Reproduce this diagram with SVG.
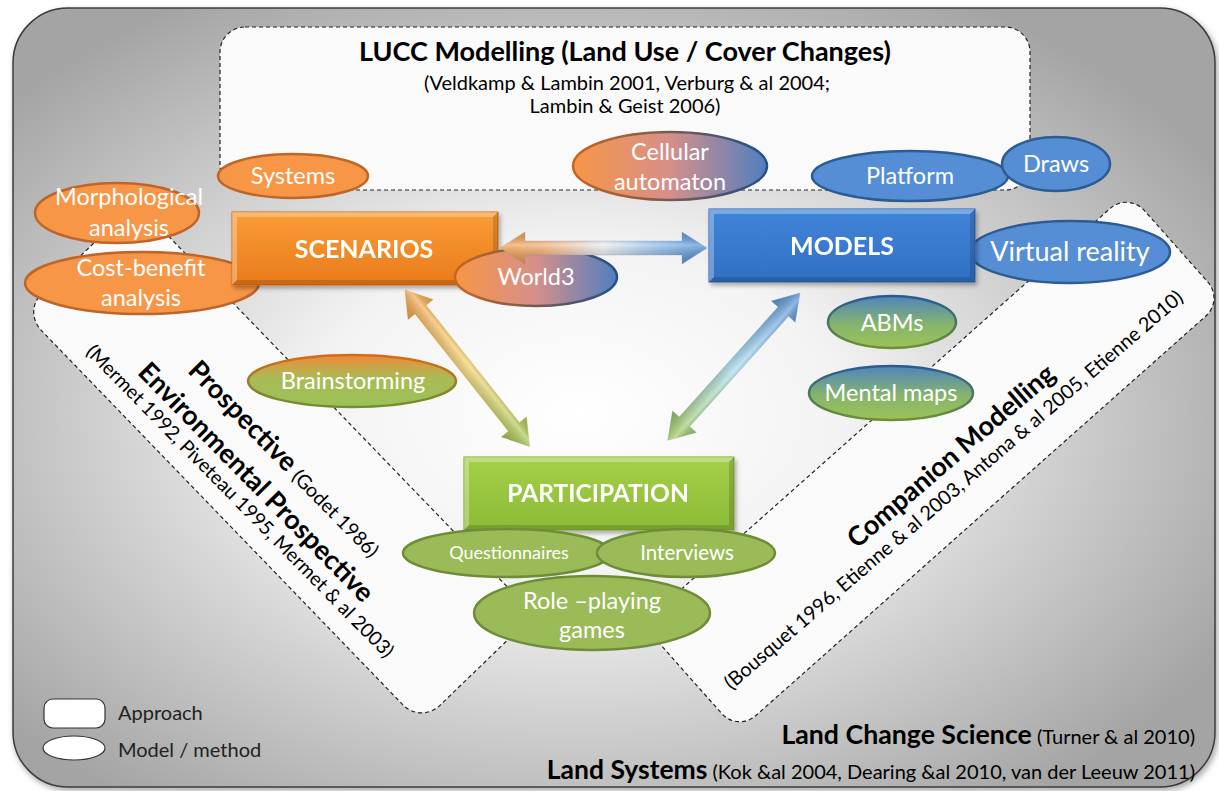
<svg xmlns="http://www.w3.org/2000/svg" width="1219" height="791" viewBox="0 0 1219 791">
<defs>
  <radialGradient id="bg" cx="0.47" cy="0.52" r="0.62">
    <stop offset="0" stop-color="#ffffff"/>
    <stop offset="0.35" stop-color="#f3f3f3"/>
    <stop offset="1" stop-color="#a4a4a4"/>
  </radialGradient>
  <linearGradient id="gScen" x1="0" y1="0" x2="0" y2="1">
    <stop offset="0" stop-color="#fa9d36"/>
    <stop offset="1" stop-color="#e97b1c"/>
  </linearGradient>
  <linearGradient id="gMod" x1="0" y1="0" x2="0" y2="1">
    <stop offset="0" stop-color="#4285d8"/>
    <stop offset="1" stop-color="#316fc2"/>
  </linearGradient>
  <linearGradient id="gPart" x1="0" y1="0" x2="0" y2="1">
    <stop offset="0" stop-color="#a6d048"/>
    <stop offset="1" stop-color="#8bbb37"/>
  </linearGradient>
  <linearGradient id="gOB" x1="0" y1="0" x2="1" y2="0">
    <stop offset="0" stop-color="#f79646"/>
    <stop offset="0.5" stop-color="#d68f8a"/>
    <stop offset="1" stop-color="#4f7fc0"/>
  </linearGradient>
  <linearGradient id="sOB" x1="0" y1="0" x2="1" y2="0">
    <stop offset="0" stop-color="#c8661f"/>
    <stop offset="1" stop-color="#254f85"/>
  </linearGradient>
  <linearGradient id="gBG" x1="0" y1="0" x2="0" y2="1">
    <stop offset="0" stop-color="#4f84bf"/>
    <stop offset="0.55" stop-color="#86b46c"/>
    <stop offset="1" stop-color="#9cc458"/>
  </linearGradient>
  <linearGradient id="sBG" x1="0" y1="0" x2="0" y2="1">
    <stop offset="0" stop-color="#2b5a90"/>
    <stop offset="1" stop-color="#6c9034"/>
  </linearGradient>
  <linearGradient id="gOG" x1="0" y1="0" x2="0" y2="1">
    <stop offset="0" stop-color="#ef8a3a"/>
    <stop offset="0.45" stop-color="#a9bb55"/>
    <stop offset="1" stop-color="#9cc158"/>
  </linearGradient>
  <linearGradient id="sOG" x1="0" y1="0" x2="0" y2="1">
    <stop offset="0" stop-color="#d66a16"/>
    <stop offset="1" stop-color="#6c9034"/>
  </linearGradient>
  <linearGradient id="aH" x1="0" y1="0" x2="1" y2="0">
    <stop offset="0" stop-color="#f39a45"/>
    <stop offset="0.2" stop-color="#f5a866"/>
    <stop offset="0.5" stop-color="#e9ecf2"/>
    <stop offset="0.75" stop-color="#8dbbea"/>
    <stop offset="1" stop-color="#4588d8"/>
  </linearGradient>
  <linearGradient id="aL" x1="0" y1="0" x2="1" y2="0">
    <stop offset="0" stop-color="#f3a045"/>
    <stop offset="0.5" stop-color="#f4d06a"/>
    <stop offset="1" stop-color="#9cc64c"/>
  </linearGradient>
  <linearGradient id="aR" x1="0" y1="0" x2="1" y2="0">
    <stop offset="0" stop-color="#4a89d3"/>
    <stop offset="0.5" stop-color="#a9dcef"/>
    <stop offset="1" stop-color="#9cc64c"/>
  </linearGradient>
  <linearGradient id="aShade" x1="0" y1="0" x2="0" y2="1">
    <stop offset="0" stop-color="#000" stop-opacity="0.12"/>
    <stop offset="0.4" stop-color="#fff" stop-opacity="0.35"/>
    <stop offset="1" stop-color="#000" stop-opacity="0.18"/>
  </linearGradient>
  <filter id="sh" x="-10%" y="-20%" width="130%" height="160%">
    <feDropShadow dx="2" dy="3" stdDeviation="2" flood-color="#000" flood-opacity="0.3"/>
  </filter>
  <filter id="osh" x="-5%" y="-5%" width="110%" height="110%">
    <feDropShadow dx="2" dy="3" stdDeviation="3" flood-color="#000" flood-opacity="0.35"/>
  </filter>
</defs>
<style>
  text { font-family: Lato, "Liberation Sans", sans-serif; }
  .appr { fill: #fafafa; stroke: #222; stroke-width: 1.2; stroke-dasharray: 4 3; }
  .ttl { font-size: 27px; font-weight: bold; fill: #000; text-anchor: middle; }
  .cit { font-size: 20px; fill: #000; text-anchor: middle; }
  .lbl { font-size: 23.5px; fill: #fff; text-anchor: middle; }
  .big { font-size: 25px; font-weight: bold; fill: #fff; text-anchor: middle; }
  .rb { font-size: 27px; font-weight: bold; fill: #000; }
  .rc { font-size: 19.5px; font-weight: normal; fill: #000; }
  .or { fill: #f79646; stroke: #be6529; stroke-width: 2.5; }
  .bl { fill: #558ed5; stroke: #2d5c93; stroke-width: 2.5; }
  .gr { fill: #9bbb59; stroke: #6f8c36; stroke-width: 2.5; }
  .hi { fill: #fff; opacity: 0.3; }
  .lo { fill: #000; opacity: 0.15; }
  .leg { font-size: 20px; fill: #222; }
</style>

<rect id="frame" x="13" y="8" width="1202" height="779" rx="55" fill="url(#bg)" stroke="#3c3c3c" stroke-width="1.5" filter="url(#osh)"/>

<g id="approach-prospective">
  <rect class="appr" x="-286.5" y="-78.5" width="573" height="157" rx="26" transform="translate(278.5 463) rotate(46)"/>
  <g transform="translate(278.6 465.3) rotate(45.5)">
    <text class="rb" text-anchor="middle" x="0" y="0">Prospective <tspan class="rc">(Godet 1986)</tspan></text>
  </g>
  <g transform="translate(249.6 488.7) rotate(45.5)">
    <text class="rb" text-anchor="middle" x="0" y="0">Environmental Prospective</text>
  </g>
  <g transform="translate(235.3 505.9) rotate(45.5)">
    <text class="rc" text-anchor="middle" x="0" y="0">(Mermet 1992, Piveteau 1995, Mermet &amp; al 2003)</text>
  </g>
</g>

<g id="approach-companion">
  <rect class="appr" x="-325" y="-72" width="650" height="144" rx="24" transform="translate(933 462) rotate(-41.6)"/>
  <g transform="translate(957 463) rotate(-40.8)">
    <text class="rb" text-anchor="middle" x="0" y="0">Companion Modelling</text>
  </g>
  <g transform="translate(958 495) rotate(-40.8)">
    <text class="rc" text-anchor="middle" x="0" y="0" style="font-size:19.8px">(Bousquet 1996, Etienne &amp; al 2003, Antona &amp; al 2005, Etienne 2010)</text>
  </g>
</g>

<g id="approach-lucc">
  <rect class="appr" x="220" y="27" width="810" height="163" rx="25"/>
  <text class="ttl" x="625" y="61">LUCC Modelling (Land Use / Cover Changes)</text>
  <text class="cit" x="627" y="90">(Veldkamp &amp; Lambin 2001, Verburg &amp; al 2004;</text>
  <text class="cit" x="625" y="113">Lambin &amp; Geist 2006)</text>
</g>

<g id="approach-landchange">
  <text x="1195" y="744" text-anchor="end"><tspan font-size="26.7" font-weight="bold">Land Change Science</tspan><tspan font-size="20"> (Turner &amp; al 2010)</tspan></text>
</g>
<g id="approach-landsystems">
  <text x="1195" y="779" text-anchor="end"><tspan font-size="26.5" font-weight="bold">Land Systems</tspan><tspan font-size="20"> (Kok &amp;al 2004, Dearing &amp;al 2010, van der Leeuw 2011)</tspan></text>
</g>

<g id="legend">
  <rect x="44" y="699" width="61" height="29" rx="9" fill="#fff" stroke="#333" stroke-width="1.2"/>
  <text class="leg" x="118" y="720">Approach</text>
  <ellipse cx="74" cy="748" rx="31" ry="12" fill="#fff" stroke="#333" stroke-width="1.2"/>
  <text class="leg" x="118" y="757">Model / method</text>
</g>

<g id="node-costbenefit">
  <ellipse class="or" cx="142" cy="283" rx="117" ry="31"/>
  <text class="lbl" x="141" y="276">Cost-benefit</text>
  <text class="lbl" x="141" y="306">analysis</text>
</g>
<g id="node-morphological">
  <ellipse class="or" cx="117" cy="213" rx="82" ry="30"/>
  <text class="lbl" x="129" y="205">Morphological</text>
  <text class="lbl" x="129" y="236">analysis</text>
</g>

<g id="node-scenarios" filter="url(#sh)">
  <rect x="232" y="212" width="266" height="73" fill="url(#gScen)" stroke="#d06d16" stroke-width="1"/>
  <polygon class="hi" points="232,212 498,212 493,217 237,217"/>
  <polygon class="lo" points="232,285 498,285 493,280 237,280"/>
  <polygon class="hi" points="232,212 237,217 237,280 232,285" opacity="0.15"/>
  <polygon class="lo" points="498,212 493,217 493,280 498,285" opacity="0.1"/>
  <text class="big" x="364" y="258">SCENARIOS</text>
</g>

<g id="node-virtualreality">
  <ellipse class="bl" cx="1070" cy="252" rx="100" ry="31"/>
  <text class="lbl" x="1070" y="261" style="font-size:27px">Virtual reality</text>
</g>
<g id="node-models" filter="url(#sh)">
  <rect x="709" y="209" width="266" height="73" fill="url(#gMod)" stroke="#2a62ad" stroke-width="1"/>
  <polygon class="hi" points="709,209 975,209 970,214 714,214"/>
  <polygon class="lo" points="709,282 975,282 970,277 714,277"/>
  <polygon class="hi" points="709,209 714,214 714,277 709,282" opacity="0.15"/>
  <polygon class="lo" points="975,209 970,214 970,277 975,282" opacity="0.1"/>
  <text class="big" x="842" y="255">MODELS</text>
</g>

<g id="node-participation" filter="url(#sh)">
  <rect x="464" y="457" width="270" height="73" fill="url(#gPart)" stroke="#7aa52e" stroke-width="1"/>
  <polygon class="hi" points="464,457 734,457 729,462 469,462"/>
  <polygon class="lo" points="464,530 734,530 729,525 469,525"/>
  <polygon class="hi" points="464,457 469,462 469,525 464,530" opacity="0.15"/>
  <polygon class="lo" points="734,457 729,462 729,525 734,530" opacity="0.1"/>
  <text class="big" x="598" y="502" style="font-size:24.5px">PARTICIPATION</text>
</g>

<g id="node-systems">
  <ellipse class="or" cx="293" cy="176" rx="75" ry="22"/>
  <text class="lbl" x="293" y="184">Systems</text>
</g>
<g id="node-cellular">
  <ellipse cx="670" cy="166" rx="97" ry="34" fill="url(#gOB)" stroke="url(#sOB)" stroke-width="2.5"/>
  <text class="lbl" x="670" y="160">Cellular</text>
  <text class="lbl" x="670" y="190">automaton</text>
</g>
<g id="node-platform">
  <ellipse class="bl" cx="910" cy="176" rx="98" ry="25"/>
  <text class="lbl" x="910" y="184">Platform</text>
</g>
<g id="node-draws">
  <ellipse class="bl" cx="1056" cy="164" rx="54" ry="27"/>
  <text class="lbl" x="1056" y="172">Draws</text>
</g>
<g id="node-world3">
  <ellipse cx="536" cy="277" rx="81" ry="29" fill="url(#gOB)" stroke="url(#sOB)" stroke-width="2.5"/>
  <text class="lbl" x="536" y="285">World3</text>
</g>
<g id="node-abms">
  <ellipse cx="892" cy="322" rx="64" ry="26" fill="url(#gBG)" stroke="url(#sBG)" stroke-width="2.5"/>
  <text class="lbl" x="892" y="331">ABMs</text>
</g>
<g id="node-mentalmaps">
  <ellipse cx="891" cy="393" rx="82" ry="27" fill="url(#gBG)" stroke="url(#sBG)" stroke-width="2.5"/>
  <text class="lbl" x="891" y="401">Mental maps</text>
</g>
<g id="node-brainstorming">
  <ellipse cx="352" cy="381" rx="104" ry="26" fill="url(#gOG)" stroke="url(#sOG)" stroke-width="2.5"/>
  <text class="lbl" x="353" y="389">Brainstorming</text>
</g>
<g id="node-questionnaires">
  <ellipse class="gr" cx="507" cy="553" rx="104" ry="24"/>
  <text class="lbl" x="509" y="559" style="font-size:18px">Questionnaires</text>
</g>
<g id="node-interviews">
  <ellipse class="gr" cx="686" cy="553" rx="89" ry="24"/>
  <text class="lbl" x="687" y="560" style="font-size:20.5px">Interviews</text>
</g>
<g id="node-roleplaying">
  <ellipse class="gr" cx="592" cy="613" rx="118" ry="37"/>
  <text class="lbl" x="592" y="609">Role –playing</text>
  <text class="lbl" x="592" y="638">games</text>
</g>

<g id="connectors">
  <g transform="translate(500 248)">
    <polygon points="0,0 25,-16 25,-7 182,-7 182,-16 207,0 182,16 182,7 25,7 25,16" fill="url(#aH)" stroke="#7f9fc0" stroke-width="0.6" stroke-opacity="0.5"/>
    <polygon points="0,0 25,-16 25,-7 182,-7 182,-16 207,0 182,16 182,7 25,7 25,16" fill="url(#aShade)"/>
  </g>
  <g transform="translate(405 290) rotate(51.5)">
    <polygon points="0,0 25,-16 25,-7 175,-7 175,-16 200,0 175,16 175,7 25,7 25,16" fill="url(#aL)" stroke="#c9a040" stroke-width="0.6" stroke-opacity="0.5"/>
    <polygon points="0,0 25,-16 25,-7 175,-7 175,-16 200,0 175,16 175,7 25,7 25,16" fill="url(#aShade)"/>
  </g>
  <g transform="translate(800 293) rotate(131.9)">
    <polygon points="0,0 25,-16 25,-7 173,-7 173,-16 198,0 173,16 173,7 25,7 25,16" fill="url(#aR)" stroke="#7aa0b0" stroke-width="0.6" stroke-opacity="0.5"/>
    <polygon points="0,0 25,-16 25,-7 173,-7 173,-16 198,0 173,16 173,7 25,7 25,16" fill="url(#aShade)"/>
  </g>
</g>
</svg>
